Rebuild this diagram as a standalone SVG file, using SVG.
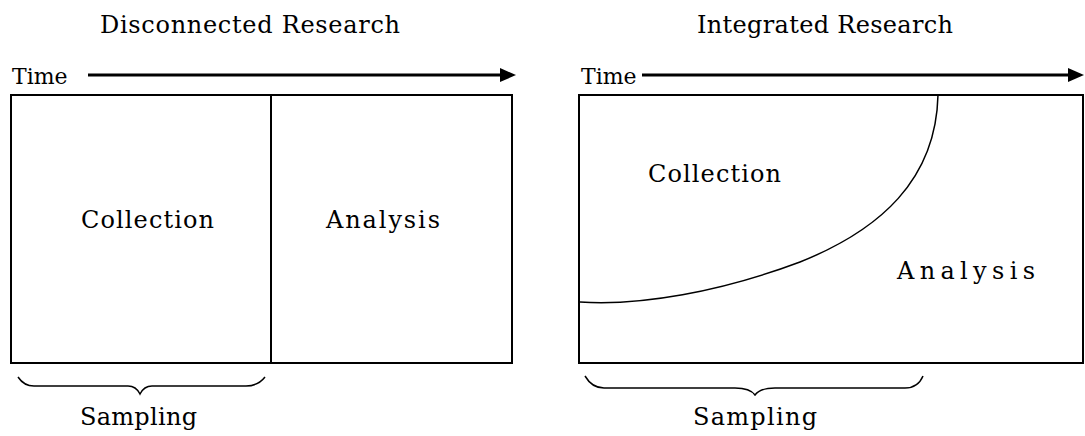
<svg xmlns="http://www.w3.org/2000/svg" width="1085" height="436" viewBox="0 0 1085 436">
<style>
text{font-family:"DejaVu Serif","Liberation Serif",serif;font-size:24px;fill:#000}
.t{font-size:22px}
.box{fill:none;stroke:#000;stroke-width:2}
.thin{fill:none;stroke:#000;stroke-width:1.5}
</style>
<rect width="1085" height="436" fill="#fff"/>
<g id="left-panel" font-family="DejaVu Serif, Liberation Serif, serif">
<text x="100" y="33" textLength="300" lengthAdjust="spacing">Disconnected Research</text>
<text class="t" x="12" y="84">Time</text>
<rect class="box" x="11" y="95" width="501" height="268"/>
<line class="box" x1="271" y1="95" x2="271" y2="363"/>
<text x="81" y="228" textLength="133" lengthAdjust="spacing">Collection</text>
<text x="326" y="228" textLength="114" lengthAdjust="spacing">Analysis</text>
<text x="80" y="425" textLength="117" lengthAdjust="spacing">Sampling</text>
</g>
<g id="right-panel" font-family="DejaVu Serif, Liberation Serif, serif">
<text x="697" y="33" textLength="256" lengthAdjust="spacing">Integrated Research</text>
<text class="t" x="581" y="84">Time</text>
<rect class="box" x="579" y="95" width="504" height="268"/>
<text x="648" y="182" textLength="133" lengthAdjust="spacing">Collection</text>
<text x="897" y="279" textLength="138" lengthAdjust="spacing">Analysis</text>
<text x="693" y="425" textLength="124" lengthAdjust="spacing">Sampling</text>
</g>
<g id="connectors">
<line x1="88" y1="75" x2="502" y2="75" stroke="#000" stroke-width="3"/>
<polygon points="500,68 516,75 500,82" fill="#000"/>
<line x1="642" y1="75" x2="1070" y2="75" stroke="#000" stroke-width="3"/>
<polygon points="1068,68 1084,75 1068,82" fill="#000"/>
<path class="thin" d="M938,95 C936,180 880,230 800,262 C720,292 640,306 580,302"/>
<path class="thin" d="M18,377 Q24,386 34,386 L128,386 Q136,386 140,394 Q144,386 152,386 L246,386 Q258,386 265,377"/>
<path class="thin" d="M585,376 Q592,388 604,388 L735,388 Q750,388 755,395 Q760,388 775,388 L905,388 Q918,388 923,376"/>
</g>
</svg>
